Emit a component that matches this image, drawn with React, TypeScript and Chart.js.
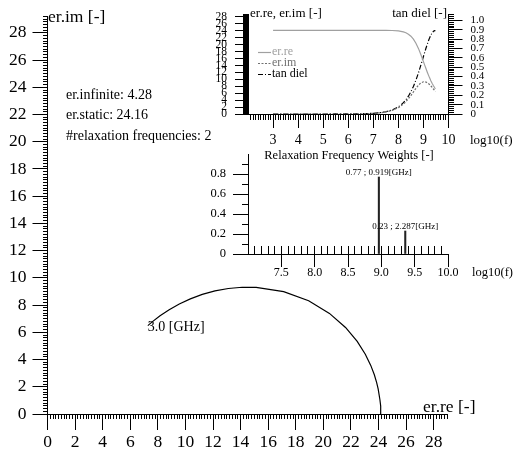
import { useEffect, useRef } from "react";
import { Chart, registerables } from "chart.js";

Chart.register(...registerables);

const FONT = "'Liberation Serif', 'Times New Roman', Times, serif";
const W = 514;
const H = 455;

// ---- data ----
const logF = [3, 4, 5, 6, 6.5, 7, 7.25, 7.5, 7.75, 8, 8.1, 8.2, 8.3, 8.4, 8.5, 8.6, 8.7, 8.8, 8.9, 9, 9.05, 9.1, 9.15, 9.2, 9.25, 9.3, 9.35, 9.4, 9.45, 9.477];
const erRe = [24.16, 24.16, 24.16, 24.16, 24.16, 24.158, 24.154, 24.141, 24.1, 23.972, 23.864, 23.696, 23.436, 23.041, 22.454, 21.607, 20.441, 18.933, 17.122, 15.127, 14.111, 13.111, 12.142, 11.221, 10.356, 9.555, 8.822, 8.159, 7.566, 7.274];
const erIm = [0, 0, 0.002, 0.019, 0.059, 0.187, 0.332, 0.589, 1.046, 1.846, 2.309, 2.879, 3.57, 4.389, 5.33, 6.356, 7.391, 8.315, 8.99, 9.305, 9.312, 9.221, 9.042, 8.783, 8.459, 8.081, 7.663, 7.215, 6.749, 6.491];
const tanDiel = [0, 0, 0.0001, 0.0008, 0.0024, 0.0077, 0.0137, 0.0244, 0.0434, 0.077, 0.0968, 0.1215, 0.1523, 0.1905, 0.2374, 0.2942, 0.3616, 0.4392, 0.5251, 0.6151, 0.6599, 0.7033, 0.7446, 0.7828, 0.8168, 0.8458, 0.8686, 0.8843, 0.892, 0.8924];

const erInfinite = "4.28";
const erStatic = "24.16";
const relaxCount = "2";
const highFreqLabel = "3.0 [GHz]";

const relaxLogF = [8.963, 9.359];
const relaxWeight = [0.77, 0.23];
const relaxLabels = ["0.77 ; 0.919[GHz]", "0.23 ; 2.287[GHz]"];

// ---- tick labels ----
const mainTicks = [0, 2, 4, 6, 8, 10, 12, 14, 16, 18, 20, 22, 24, 26, 28];
const mainLabels = mainTicks.map(String);
const in1XTicks = [3, 4, 5, 6, 7, 8, 9, 10];
const in1XLabels = ["3", "4", "5", "6", "7", "8", "9", "10"];
const in1LTicks = [0, 2, 4, 6, 8, 10, 12, 14, 16, 18, 20, 22, 24, 26, 28];
const in1LLabels = in1LTicks.map(String);
const in1RTicks = [0, 0.1, 0.2, 0.3, 0.4, 0.5, 0.6, 0.7, 0.8, 0.9, 1.0];
const in1RLabels = ["0", "0.1", "0.2", "0.3", "0.4", "0.5", "0.6", "0.7", "0.8", "0.9", "1.0"];
const in2XTicks = [7.5, 8, 8.5, 9, 9.5, 10];
const in2XLabels = ["7.5", "8.0", "8.5", "9.0", "9.5", "10.0"];
const in2YTicks = [0, 0.2, 0.4, 0.6, 0.8];
const in2YLabels = ["0", "0.2", "0.4", "0.6", "0.8"];

// ---- helpers ----
function steps(from: number, to: number, step: number, skipEvery = 0): number[] {
  const out: number[] = [];
  const n = Math.round((to - from) / step);
  for (let i = 0; i <= n; i++) {
    if (skipEvery && i % skipEvery === 0) continue;
    out.push(from + i * step);
  }
  return out;
}

function axis(o: any) {
  const horiz = o.pos === "bottom" || o.pos === "top";
  return {
    type: "linear",
    position: o.pos,
    min: o.min,
    max: o.max,
    offset: false,
    afterBuildTicks: (s: any) => {
      s.ticks = o.ticks.map((v: number) => ({ value: v }));
    },
    afterFit: (s: any) => {
      if (horiz) s.height = o.size;
      else s.width = o.size;
    },
    grid: { display: true, drawOnChartArea: false, drawTicks: true, tickLength: o.tick, color: "#000", lineWidth: 1, offset: false },
    border: { display: true, color: "#000", width: 1 },
    ticks: {
      autoSkip: false,
      maxRotation: 0,
      minRotation: 0,
      padding: o.pad,
      color: "#000",
      font: { family: FONT, size: o.font },
      callback: (_v: any, i: number) => o.labels[i],
    },
  };
}

type Txt = { t: string; x: number; y: number; size: number; align?: CanvasTextAlign; color?: string };

function drawTexts(ctx: CanvasRenderingContext2D, items: Txt[]) {
  ctx.save();
  ctx.textBaseline = "middle";
  for (const it of items) {
    ctx.font = `${it.size}px ${FONT}`;
    ctx.fillStyle = it.color ?? "#000";
    ctx.textAlign = it.align ?? "left";
    ctx.fillText(it.t, it.x, it.y);
  }
  ctx.restore();
}

type Minor = { scale: string; values: number[]; len: number; dir: number };

function drawMinor(chart: any, specs: Minor[]) {
  const ctx = chart.ctx as CanvasRenderingContext2D;
  const a = chart.chartArea;
  ctx.save();
  ctx.strokeStyle = "#000";
  ctx.lineWidth = 1;
  ctx.beginPath();
  for (const sp of specs) {
    const s = chart.scales[sp.scale];
    if (s.isHorizontal()) {
      const y0 = Math.round(a.bottom);
      for (const v of sp.values) {
        const px = Math.round(s.getPixelForValue(v) - 0.5) + 0.5;
        ctx.moveTo(px, y0);
        ctx.lineTo(px, y0 + sp.dir * sp.len);
      }
    } else {
      const x0 = Math.round(s.position === "left" ? a.left : a.right);
      for (const v of sp.values) {
        const py = Math.round(s.getPixelForValue(v) - 0.5) + 0.5;
        ctx.moveTo(x0, py);
        ctx.lineTo(x0 + sp.dir * sp.len, py);
      }
    }
  }
  ctx.stroke();
  ctx.restore();
}

const common = {
  responsive: false,
  maintainAspectRatio: false,
  animation: false,
  devicePixelRatio: 1,
  events: [],
  plugins: { legend: { display: false }, tooltip: { enabled: false } },
};

export default function App() {
  const mainRef = useRef<HTMLCanvasElement>(null);
  const in1Ref = useRef<HTMLCanvasElement>(null);
  const in2Ref = useRef<HTMLCanvasElement>(null);

  useEffect(() => {
    const charts: Chart[] = [];

    // ---------- main Cole-Cole plot ----------
    charts.push(
      new Chart(mainRef.current!, {
        type: "scatter",
        data: {
          datasets: [
            {
              label: "er",
              data: erRe.map((x, i) => ({ x, y: erIm[i] })),
              showLine: true,
              borderColor: "#000",
              borderWidth: 1.2,
              pointRadius: 0,
              tension: 0,
            },
          ],
        },
        options: {
          ...common,
          layout: { padding: { left: 0, top: 12.5, right: 66.5, bottom: 0 } },
          scales: {
            x: axis({ pos: "bottom", min: 0, max: 29, ticks: mainTicks, labels: mainLabels, size: 41, tick: 16, font: 17.5, pad: 2 }),
            y: axis({ pos: "left", min: 0, max: 29.2, ticks: mainTicks, labels: mainLabels, size: 47.5, tick: 15, font: 17.5, pad: 6 }),
          },
        } as any,
        plugins: [
          {
            id: "mainDeco",
            afterDraw(chart: any) {
              drawMinor(chart, [
                { scale: "x", values: steps(0, 29, 0.2, 10), len: 5, dir: 1 },
                { scale: "y", values: steps(0, 29.2, 0.2, 10), len: 5, dir: -1 },
              ]);
              const sx = chart.scales.x;
              const sy = chart.scales.y;
              const last = erRe.length - 1;
              drawTexts(chart.ctx, [
                { t: "er.im [-]", x: 48, y: 17, size: 17.5 },
                { t: "er.re [-]", x: 423, y: 407, size: 17.5 },
                { t: "er.infinite: " + erInfinite, x: 66, y: 95, size: 14 },
                { t: "er.static: " + erStatic, x: 66, y: 115, size: 14 },
                { t: "#relaxation frequencies: " + relaxCount, x: 66, y: 136, size: 14 },
                { t: highFreqLabel, x: sx.getPixelForValue(erRe[last]), y: sy.getPixelForValue(erIm[last]) + 2, size: 14 },
              ]);
            },
          },
        ],
      })
    );

    // ---------- inset 1: spectra vs log10(f) ----------
    charts.push(
      new Chart(in1Ref.current!, {
        type: "scatter",
        data: {
          datasets: [
            {
              label: "er.re",
              data: logF.map((x, i) => ({ x, y: erRe[i] })),
              yAxisID: "y",
              showLine: true,
              borderColor: "#a0a0a0",
              borderWidth: 1.2,
              pointRadius: 0,
            },
            {
              label: "er.im",
              data: logF.map((x, i) => ({ x, y: erIm[i] })),
              yAxisID: "y",
              showLine: true,
              borderColor: "#707070",
              borderDash: [2, 1.5],
              borderWidth: 1.2,
              pointRadius: 0,
            },
            {
              label: "tan diel",
              data: logF.map((x, i) => ({ x, y: tanDiel[i] })),
              yAxisID: "y2",
              showLine: true,
              borderColor: "#000",
              borderDash: [5, 2, 1, 2],
              borderWidth: 1.2,
              pointRadius: 0,
            },
          ],
        },
        options: {
          ...common,
          layout: { padding: { left: 208, top: 13.5, right: 25.5, bottom: 311 } },
          scales: {
            x: axis({ pos: "bottom", min: 2, max: 10, ticks: in1XTicks, labels: in1XLabels, size: 30, tick: 14, font: 14, pad: 4 }),
            y: axis({ pos: "left", min: 0, max: 28.6, ticks: in1LTicks, labels: in1LLabels, size: 40, tick: 13, font: 11.5, pad: 8 }),
            y2: axis({ pos: "right", min: 0, max: 1.06, ticks: in1RTicks, labels: in1RLabels, size: 40, tick: 14, font: 11, pad: 8 }),
          },
        } as any,
        plugins: [
          {
            id: "in1Deco",
            afterDraw(chart: any) {
              drawMinor(chart, [
                { scale: "x", values: steps(2, 10, 0.1, 10), len: 6, dir: 1 },
                { scale: "y", values: steps(0, 28.6, 0.2, 10), len: 5, dir: -1 },
                { scale: "y2", values: steps(0, 1.06, 0.02, 5), len: 5, dir: 1 },
              ]);
              const ctx = chart.ctx as CanvasRenderingContext2D;
              const rows = [52, 63, 74];
              chart.data.datasets.forEach((ds: any, i: number) => {
                ctx.save();
                ctx.strokeStyle = ds.borderColor;
                ctx.lineWidth = 1.2;
                ctx.setLineDash(ds.borderDash ?? []);
                ctx.beginPath();
                ctx.moveTo(258, rows[i] + 0.5);
                ctx.lineTo(271, rows[i] + 0.5);
                ctx.stroke();
                ctx.restore();
              });
              drawTexts(ctx, [
                { t: "er.re, er.im [-]", x: 250, y: 14, size: 13 },
                { t: "tan diel [-]", x: 447, y: 14, size: 13, align: "right" },
                { t: "log10(f)", x: 470, y: 141, size: 13 },
                ...chart.data.datasets.map((ds: any, i: number) => ({
                  t: ds.label,
                  x: 272,
                  y: rows[i],
                  size: 12,
                  color: ds.borderColor,
                })),
              ]);
            },
          },
        ],
      })
    );

    // ---------- inset 2: relaxation frequency weights ----------
    charts.push(
      new Chart(in2Ref.current!, {
        type: "bar",
        data: {
          datasets: [
            {
              label: "weights",
              data: relaxLogF.map((x, i) => ({ x, y: relaxWeight[i] })),
              backgroundColor: "#222",
              barThickness: 1.4,
              borderWidth: 0,
            },
          ],
        },
        options: {
          ...common,
          layout: { padding: { left: 208, top: 154, right: 66, bottom: 171 } },
          scales: {
            x: axis({ pos: "bottom", min: 7, max: 10, ticks: in2XTicks, labels: in2XLabels, size: 30, tick: 13, font: 12, pad: -1 }),
            y: axis({ pos: "left", min: 0, max: 1.0, ticks: in2YTicks, labels: in2YLabels, size: 40, tick: 15, font: 12.5, pad: 7 }),
          },
        } as any,
        plugins: [
          {
            id: "in2Deco",
            afterDraw(chart: any) {
              drawMinor(chart, [
                { scale: "x", values: steps(7.1, 9.9, 0.1), len: 8, dir: -1 },
                { scale: "y", values: [0.1, 0.3, 0.5, 0.7, 0.9], len: 6, dir: -1 },
              ]);
              const sx = chart.scales.x;
              const sy = chart.scales.y;
              drawTexts(chart.ctx, [
                { t: "Relaxation Frequency Weights [-]", x: 349, y: 156, size: 12.5, align: "center" },
                { t: "log10(f)", x: 472, y: 273, size: 12.5 },
                ...relaxLogF.map((v, i) => ({
                  t: relaxLabels[i],
                  x: sx.getPixelForValue(v),
                  y: sy.getPixelForValue(relaxWeight[i]) - 4,
                  size: 9,
                  align: "center" as CanvasTextAlign,
                })),
              ]);
            },
          },
        ],
      })
    );

    return () => charts.forEach((c) => c.destroy());
  }, []);

  const cs: any = { position: "absolute", left: 0, top: 0 };
  return (
    <div style={{ position: "fixed", left: 0, top: 0, width: W, height: H, background: "#fff" }}>
      <canvas ref={mainRef} width={W} height={H} style={cs} />
      <canvas ref={in1Ref} width={W} height={H} style={cs} />
      <canvas ref={in2Ref} width={W} height={H} style={cs} />
    </div>
  );
}
